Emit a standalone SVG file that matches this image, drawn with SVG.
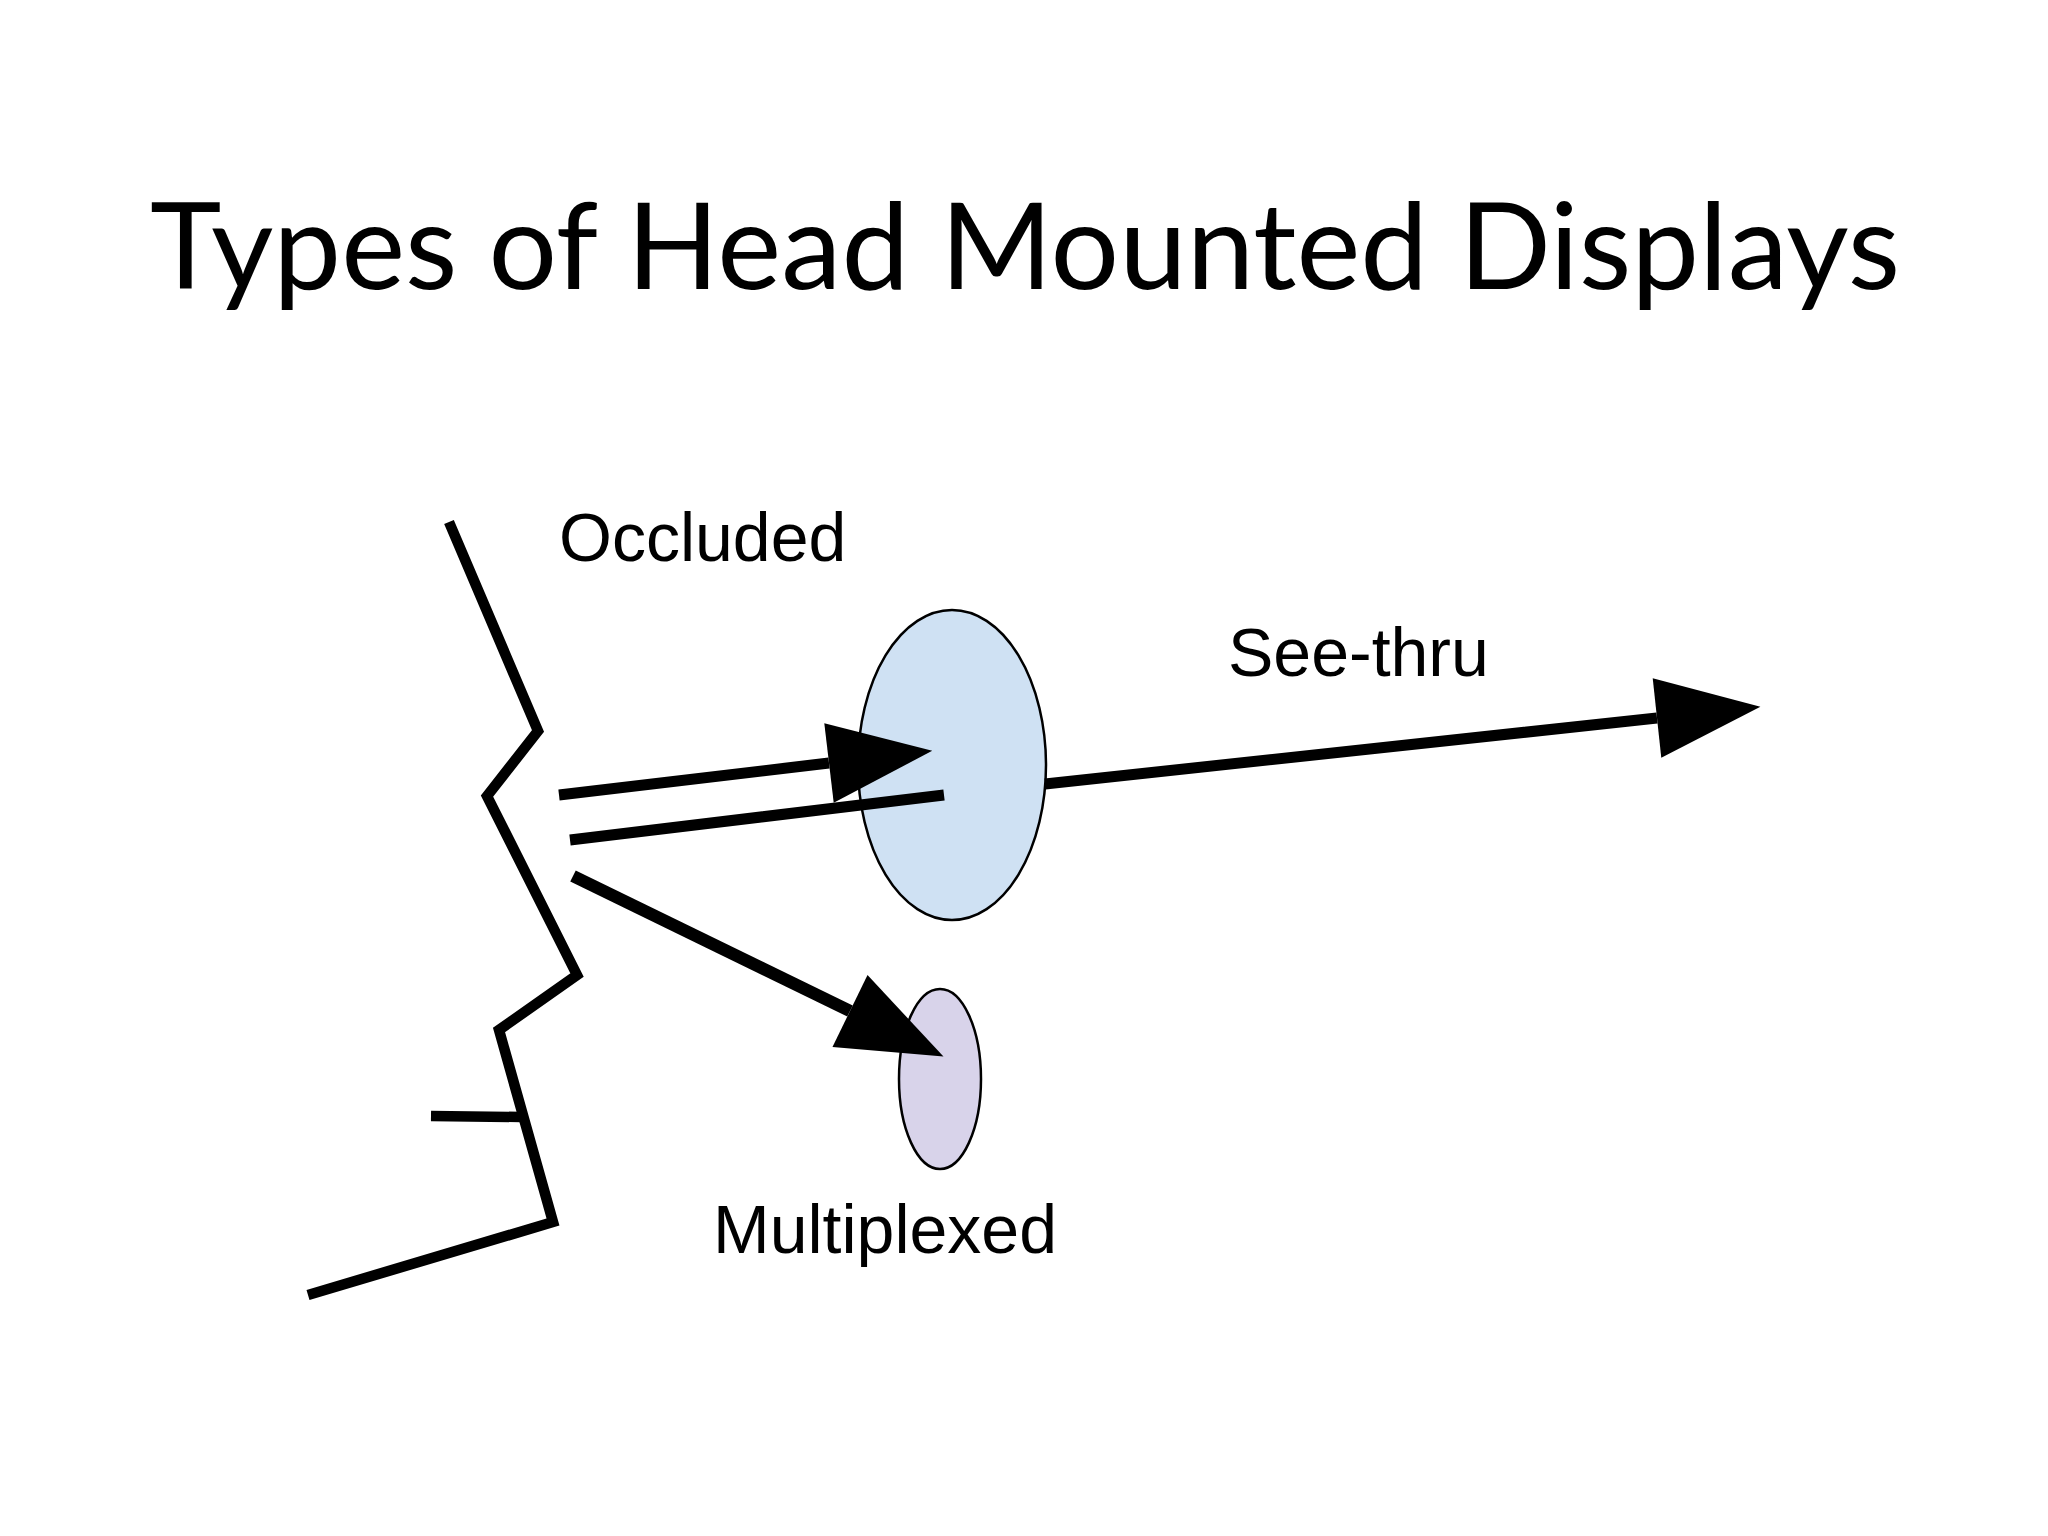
<svg xmlns="http://www.w3.org/2000/svg" width="2048" height="1536" viewBox="0 0 2048 1536">
<style>
.title{font-family:Lato,"Open Sans","Liberation Sans",sans-serif;font-size:121px;fill:#000}
.lbl{font-family:"Liberation Sans",Arial,sans-serif;font-size:68px;fill:#000}
.thick{fill:none;stroke:#000;stroke-width:10.5;stroke-linejoin:miter;stroke-linecap:butt}
.conn{fill:none;stroke:#000;stroke-width:11;stroke-linecap:butt}
.lens{stroke:#000;stroke-width:2.5}
</style>
<defs>
<marker id="ah" markerUnits="userSpaceOnUse" markerWidth="110" markerHeight="90" refX="0" refY="45" orient="auto" overflow="visible">
<path d="M0,5 L104,45 L0,85 z" fill="#000"/>
</marker>
</defs>
<rect width="2048" height="1536" fill="#fff"/>
<g id="title"><text class="title" x="150" y="289">Types of Head Mounted Displays</text></g>
<g id="face">
<polyline class="thick" points="449,522 538,731 487,796 577,975 499,1030 553,1222 308,1295"/>
<line class="thick" x1="431" y1="1116" x2="521" y2="1117"/>
</g>
<g id="see-thru-lens"><ellipse class="lens" cx="952" cy="765" rx="94" ry="155" fill="#cfe1f3"/></g>
<g id="multiplexed-lens"><ellipse class="lens" cx="940" cy="1079" rx="41" ry="90" fill="#d8d3ea"/></g>
<g id="connectors">
<path id="occluded-arrow" class="conn" d="M559,795 L829,763" marker-end="url(#ah)"/>
<path id="see-thru-arrow" class="conn" d="M570,840 L944,795 M1045,784 L1657,718" marker-end="url(#ah)"/>
<path id="multiplexed-arrow" class="conn" style="stroke-width:12.5" d="M573,876 L850,1011" marker-end="url(#ah)"/>
</g>
<g id="labels">
<text class="lbl" x="559" y="561">Occluded</text>
<text class="lbl" x="1228" y="676">See-thru</text>
<text class="lbl" x="713" y="1253">Multiplexed</text>
</g>
</svg>
